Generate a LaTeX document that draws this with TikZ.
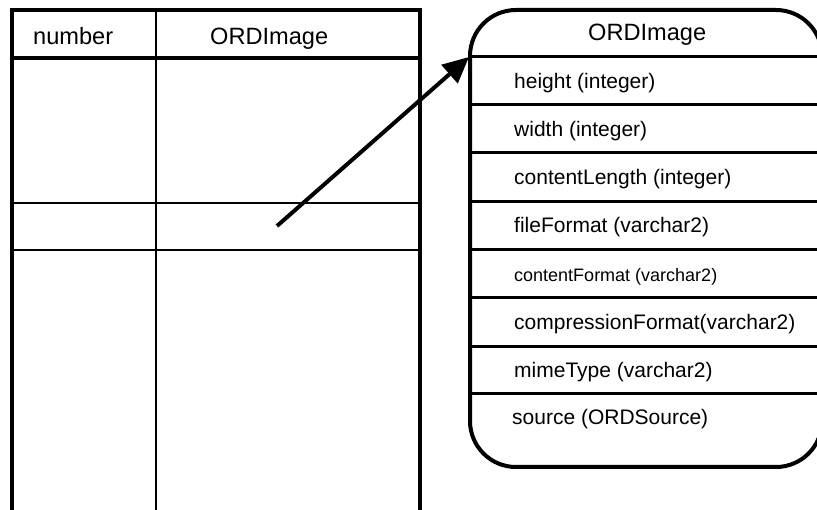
\documentclass[tikz,border=0pt]{standalone}
\usepackage{fontspec}
\setmainfont{Liberation Sans}
\usetikzlibrary{arrows.meta}
\begin{document}
\begin{tikzpicture}[x=1pt,y=-1pt,
  head/.style={anchor=base west,inner sep=0pt,font=\fontsize{23.6}{28}\selectfont},
  attr/.style={anchor=base west,inner sep=0pt,font=\fontsize{21}{25}\selectfont},
  smallattr/.style={attr,font=\fontsize{18}{22}\selectfont}]
\useasboundingbox (0,0) rectangle (817,510);
\clip (0,0) rectangle (817,510);

% table
\draw[line width=4] (12,510) -- (12,10) -- (420,10) -- (420,510);
\draw[line width=3.5] (12,58) -- (420,58);
\draw[line width=2.5] (156,10) -- (156,510);
\draw[line width=1.5] (12,203) -- (420,203);
\draw[line width=1.5] (12,250) -- (420,250);
\node[head] (colnumber) at (33,45) {number};
\node[head] (colimage) at (210,45) {ORDImage};

% object type
\draw[line width=4,rounded corners=46] (470,10) rectangle (822,467);
\foreach \y in {57,105,153,202,250,298,347,394}
  \draw[line width=3] (470,\y) -- (822,\y);
\node[head] (typename) at (588,41) {ORDImage};
\node[attr] (height) at (514,89) {height (integer)};
\node[attr] (width) at (514,137) {width (integer)};
\node[attr] (contentlength) at (514,185) {contentLength (integer)};
\node[attr] (fileformat) at (514,233) {fileFormat (varchar2)};
\node[smallattr] (contentformat) at (514,282) {contentFormat (varchar2)};
\node[attr] (compression) at (514,330) {compressionFormat(varchar2)};
\node[attr] (mimetype) at (514,378) {mimeType (varchar2)};
\node[attr] (source) at (512,425) {source (ORDSource)};

% reference
\coordinate (cell) at (277,226);
\coordinate (typecorner) at (469,57);
\draw[line width=4,-{Triangle[length=26pt,width=24pt]}] (cell) -- (typecorner);
\end{tikzpicture}
\end{document}
